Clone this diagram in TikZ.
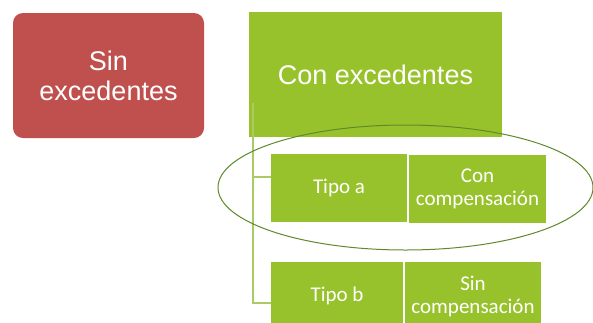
\documentclass[tikz,border=0pt]{standalone}
\usepackage{fontspec}
\setmainfont{Liberation Sans}
\newfontfamily\lowfont{Carlito}
\definecolor{redbox}{HTML}{C0504D}
\definecolor{greenbox}{HTML}{98C22C}
\definecolor{linkgreen}{HTML}{A9CA64}
\definecolor{ovalgreen}{HTML}{5F8A2A}
\begin{document}
\begin{tikzpicture}[x=1pt,y=1pt,
  bigtext/.style={text=white, font=\fontsize{27}{30}\selectfont, align=center, inner sep=0pt},
  redstyle/.style={bigtext, fill=redbox, rounded corners=10pt, minimum width=191pt, minimum height=125pt},
  topbox/.style={bigtext, fill=greenbox, minimum width=253pt, minimum height=125pt},
  subbox/.style={fill=greenbox, text=white, font=\lowfont\fontsize{21}{23}\selectfont, align=center, inner sep=0pt, minimum height=68pt},
  link/.style={draw=linkgreen, line width=1.3pt},
  oval/.style={draw=ovalgreen, line width=1pt}]
\useasboundingbox (0,0) rectangle (593,-322);
\fill[white] (0,0) rectangle (593,-322);
\node[redstyle] (sin) at (108.5,-75.5) {Sin\\excedentes};
\node[topbox] (con) at (375.5,-74.5) {Con excedentes};
\node[subbox, minimum width=136pt] (ta) at (339,-188) {Tipo a};
\node[subbox, minimum width=137pt] (cc) at (477.5,-188.5) {Con\\compensación};
\node[subbox, minimum width=132pt] (tb) at (337,-296) {Tipo b};
\node[subbox, minimum width=136pt] (sc) at (473,-296) {Sin\\compensación};
\coordinate (trunktop) at (253,-103);
\coordinate (trunkbot) at (253,-303);
\coordinate (ja) at (253,-177);
\draw[link] (trunktop) -- (trunkbot) -- (trunkbot -| tb.west);
\draw[link] (ja) -- (ja -| ta.west);
\draw[oval] (405.5,-187.5) ellipse [x radius=187.5, y radius=62.5];
\end{tikzpicture}
\end{document}
